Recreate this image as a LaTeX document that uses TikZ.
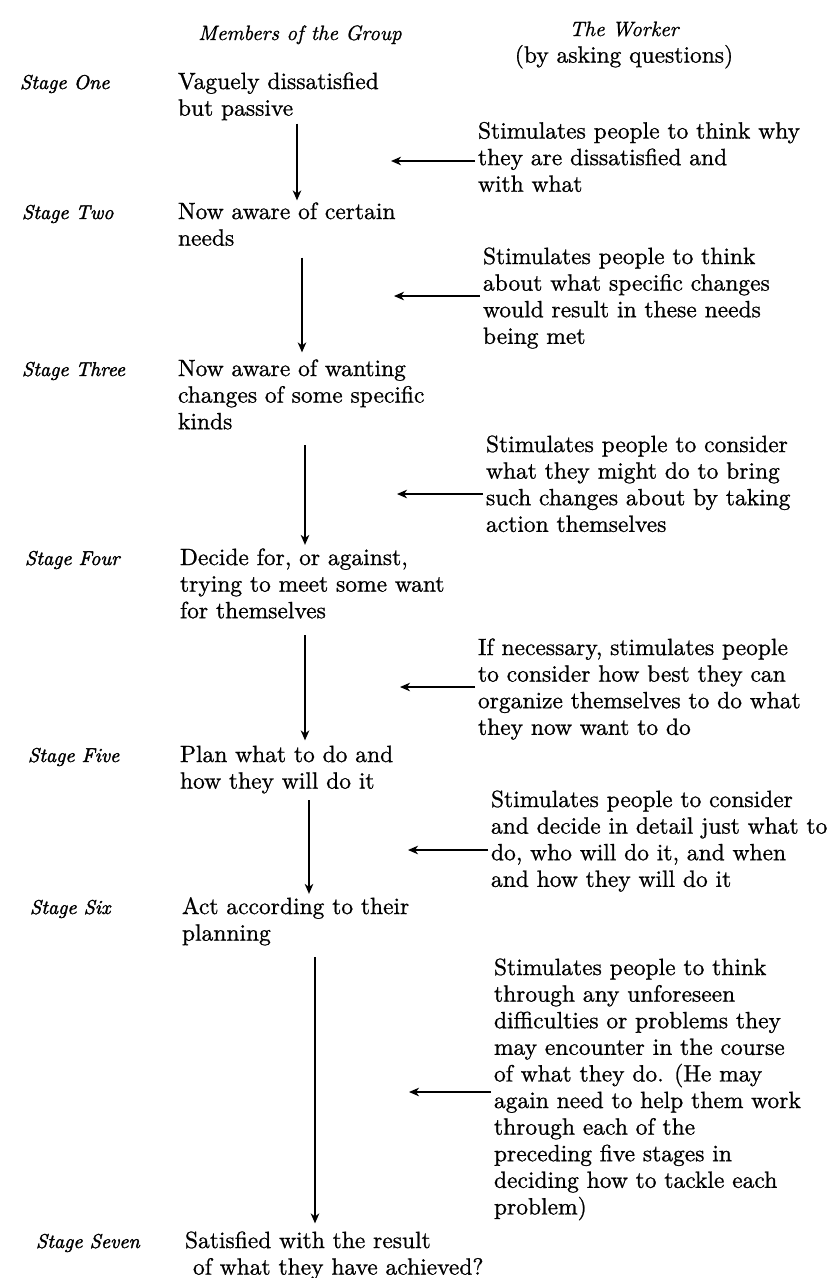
\documentclass[tikz,border=0pt]{standalone}
\usepackage{fontspec}
\setmainfont{lmroman10-regular.otf}[ItalicFont=lmroman10-italic.otf, FakeBold=0.9]
\newfontfamily\stagefont{lmroman10-italic.otf}[FakeBold=1.8]
\usetikzlibrary{arrows.meta}
\begin{document}
\begin{tikzpicture}[x=1pt,y=1pt,
  body/.style={inner sep=0pt, outer sep=0pt, anchor=north west, align=left,
    font={\fontsize{23.5}{26.6}\selectfont}},
  stagelab/.style={inner sep=0pt, outer sep=0pt, anchor=base west,
    font={\stagefont\fontsize{20}{24}\selectfont}},
  headlab/.style={inner sep=0pt, outer sep=0pt, anchor=base,
    font={\fontsize{20.8}{24}\selectfont\itshape}},
  arr/.style={line width=1.6pt, -{Stealth[length=10pt,width=8.5pt,inset=3pt]}},
]
\useasboundingbox (0,0) rectangle (837,-1278);
\fill[white] (0,0) rectangle (837,-1278);
\def\S{\strut}
% headers
\node[headlab] (hm) at (300,-40) {Members of the Group};
\node[inner sep=0pt, outer sep=0pt, anchor=north, align=center,
      font={\fontsize{23.5}{26.6}\selectfont}] (hw) at (624,-17.4)
  {{\fontsize{20.8}{26.6}\selectfont\itshape The Worker}\S\\(by asking questions)\S};
% stage labels
\node[stagelab] (s1) at (20,-89) {Stage One};
\node[stagelab] (s2) at (22,-219) {Stage Two};
\node[stagelab] (s3) at (22,-376) {Stage Three};
\node[stagelab] (s4) at (25,-565) {Stage Four};
\node[stagelab] (s5) at (28,-762) {Stage Five};
\node[stagelab] (s6) at (30,-914) {Stage Six};
\node[stagelab] (s7) at (36,-1248) {Stage Seven};
% members column
\node[body] (m1) at (178,-70.4) {\S Vaguely dissatisfied\\ but passive\S};
\node[body] (m2) at (178,-200.4) {\S Now aware of certain\\ needs\S};
\node[body] (m3) at (178,-357.4) {\S Now aware of wanting\\ changes of some specific\\ kinds\S};
\node[body] (m4) at (180,-546.4) {\S Decide for, or against,\\ trying to meet some want\\ for themselves\S};
\node[body] (m5) at (180,-743.4) {\S Plan what to do and\\ how they will do it\S};
\node[body] (m6) at (182,-895.4) {\S Act according to their\\ planning\S};
\node[body] (m7) at (185,-1229.4) {\S Satisfied with the result\\ \hspace*{8pt}of what they have achieved?\S};
% worker column
\node[body] (r1) at (478,-119.9) {\S Stimulates people to think why\\ they are dissatisfied and\\ with what\S};
\node[body] (r2) at (483,-245.4) {\S Stimulates people to think\\ about what specific changes\\ would result in these needs\\ being met\S};
\node[body] (r3) at (486,-433.4) {\S Stimulates people to consider\\ what they might do to bring\\ such changes about by taking\\ action themselves\S};
\node[body] (r4) at (478,-636.4) {\S If necessary, stimulates people\\ to consider how best they can\\ organize themselves to do what\\ they now want to do\S};
\node[body] (r5) at (491,-788.4) {\S Stimulates people to consider\\ and decide in detail just what to\\ do, who will do it, and when\\ and how they will do it\S};
\node[body] (r6) at (494,-956.4) {\S Stimulates people to think\\ through any unforeseen\\ difficulties or problems they\\ may encounter in the course\\ of what they do. (He may\\ again need to help them work\\ through each of the\\ preceding five stages in\\ deciding how to tackle each\\ problem)\S};
% x positions of vertical arrows
\coordinate (v1) at (297,0);
\coordinate (v2) at (302,0);
\coordinate (v3) at (305,0);
\coordinate (v4) at (305,0);
\coordinate (v5) at (309,0);
\coordinate (v6) at (315,0);
\draw[arr] (m1.south -| v1) -- (m2.north -| v1);
\draw[arr, shorten <=4pt, shorten >=5pt] (m2.south -| v2) -- (m3.north -| v2);
\draw[arr, shorten <=8pt, shorten >=1.5pt] (m3.south -| v3) -- (m4.north -| v3);
\draw[arr, shorten <=9pt, shorten >=3pt] (m4.south -| v4) -- (m5.north -| v4);
\draw[arr, shorten <=3.5pt, shorten >=1.5pt] (m5.south -| v5) -- (m6.north -| v5);
\draw[arr, shorten <=8.5pt, shorten >=6pt] (m6.south -| v6) -- (m7.north -| v6);
% horizontal arrow tips
\coordinate (h1) at (391,-161);
\coordinate (h2) at (394,-296);
\coordinate (h3) at (397,-494);
\coordinate (h4) at (400,-687);
\coordinate (h5) at (408,-850);
\coordinate (h6) at (409,-1092);
\draw[arr, shorten <=3pt] (h1 -| r1.west) -- (h1);
\draw[arr, shorten <=3pt] (h2 -| r2.west) -- (h2);
\draw[arr, shorten <=3pt] (h3 -| r3.west) -- (h3);
\draw[arr, shorten <=3pt] (h4 -| r4.west) -- (h4);
\draw[arr, shorten <=3pt] (h5 -| r5.west) -- (h5);
\draw[arr, shorten <=3pt] (h6 -| r6.west) -- (h6);
\end{tikzpicture}
\end{document}
